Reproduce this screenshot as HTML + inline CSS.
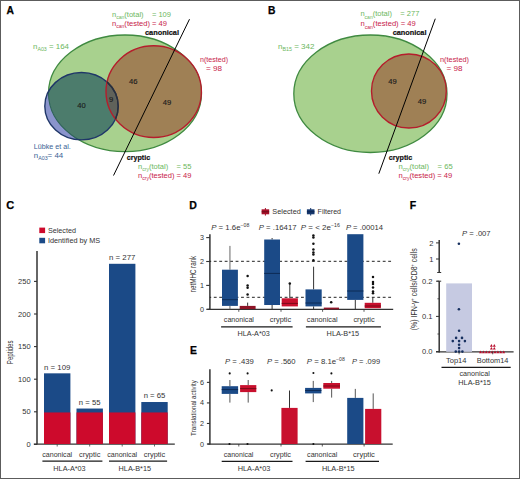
<!DOCTYPE html>
<html><head><meta charset="utf-8"><style>
html,body{margin:0;padding:0;background:#fff;}
svg{display:block;font-family:"Liberation Sans", sans-serif;}
</style></head><body>
<svg width="520" height="479" viewBox="0 0 520 479">
<rect x="0" y="0" width="520" height="479" fill="#fff"/>
<text x="6.5" y="13.7" font-size="10.3" fill="#000" text-anchor="start" font-weight="bold" stroke="#000" stroke-width="0.25">A</text>
<defs><clipPath id="gA"><ellipse cx="125" cy="93.3" rx="76.5" ry="58.3"/></clipPath><clipPath id="rA"><ellipse cx="153.7" cy="91.6" rx="47.7" ry="45.9"/></clipPath><clipPath id="bA"><ellipse cx="81.5" cy="106.2" rx="36.7" ry="33.7"/></clipPath></defs>
<ellipse cx="125" cy="93.3" rx="76.5" ry="58.3" fill="#a8d18e" stroke="#3f8a40" stroke-width="1.3"/>
<ellipse cx="81.5" cy="106.2" rx="36.7" ry="33.7" fill="#8a94cc"/>
<g clip-path="url(#gA)"><ellipse cx="81.5" cy="106.2" rx="36.7" ry="33.7" fill="#4c7c6c"/></g>
<g clip-path="url(#bA)"><ellipse cx="125" cy="93.3" rx="76.5" ry="58.3" fill="none" stroke="#2f6458" stroke-width="1.1"/></g>
<g clip-path="url(#gA)"><ellipse cx="153.7" cy="91.6" rx="47.7" ry="45.9" fill="#9f8055"/></g>
<g clip-path="url(#rA)"><g clip-path="url(#bA)"><rect x="0" y="0" width="520" height="200" fill="#60625a"/></g></g>
<ellipse cx="81.5" cy="106.2" rx="36.7" ry="33.7" fill="none" stroke="#1f3668" stroke-width="1.4"/>
<ellipse cx="153.7" cy="91.6" rx="47.7" ry="45.9" fill="none" stroke="#b51d2c" stroke-width="1.4"/>
<g clip-path="url(#rA)"><ellipse cx="81.5" cy="106.2" rx="36.7" ry="33.7" fill="none" stroke="#2a2f3a" stroke-width="1.4"/></g>
<line x1="189.5" y1="19.2" x2="113.5" y2="175.5" stroke="#000" stroke-width="1"/>
<text x="112" y="16.5" font-size="7" fill="#6cb75e" textLength="59" lengthAdjust="spacingAndGlyphs">n<tspan font-size="4.7" dy="2.3">can</tspan><tspan dy="-2.3">(total)    = 109</tspan></text>
<text x="112" y="26" font-size="7" fill="#c8234a" textLength="55" lengthAdjust="spacingAndGlyphs">n<tspan font-size="4.7" dy="2.3">can</tspan><tspan dy="-2.3">(tested) = 49</tspan></text>
<text x="145" y="35" font-size="7.6" fill="#111" text-anchor="start" font-weight="bold" textLength="34" lengthAdjust="spacingAndGlyphs" stroke="#111" stroke-width="0.2">canonical</text>
<text x="200" y="62" font-size="7" fill="#c8234a" text-anchor="start" textLength="28" lengthAdjust="spacingAndGlyphs">n(tested)</text>
<text x="206" y="71" font-size="7" fill="#c8234a" text-anchor="start" textLength="16" lengthAdjust="spacingAndGlyphs">= 98</text>
<text x="33" y="48.5" font-size="7" fill="#6cb75e" textLength="36" lengthAdjust="spacingAndGlyphs">n<tspan font-size="4.7" dy="2.3">A03</tspan><tspan dy="-2.3"> = 164</tspan></text>
<text x="81.6" y="108.4" font-size="7.6" fill="#1c1c1c" text-anchor="middle" stroke="#1c1c1c" stroke-width="0.15">40</text>
<text x="111" y="101.5" font-size="7.6" fill="#1c1c1c" text-anchor="middle" stroke="#1c1c1c" stroke-width="0.15">9</text>
<text x="133.3" y="83.5" font-size="7.6" fill="#1c1c1c" text-anchor="middle" stroke="#1c1c1c" stroke-width="0.15">46</text>
<text x="167" y="104.5" font-size="7.6" fill="#1c1c1c" text-anchor="middle" stroke="#1c1c1c" stroke-width="0.15">49</text>
<text x="33.75" y="148.9" font-size="7" fill="#3a5f95" text-anchor="start" textLength="37" lengthAdjust="spacingAndGlyphs">Lübke et al.</text>
<text x="33.75" y="158" font-size="7" fill="#3a5f95" textLength="29.5" lengthAdjust="spacingAndGlyphs">n<tspan font-size="4.7" dy="2.3">A03</tspan><tspan dy="-2.3">= 44</tspan></text>
<text x="126.8" y="160.0" font-size="7.6" fill="#111" text-anchor="start" font-weight="bold" textLength="23.4" lengthAdjust="spacingAndGlyphs" stroke="#111" stroke-width="0.2">cryptic</text>
<text x="138" y="168.9" font-size="7" fill="#6cb75e" textLength="53.5" lengthAdjust="spacingAndGlyphs">n<tspan font-size="4.7" dy="2.3">cry</tspan><tspan dy="-2.3">(total)    = 55</tspan></text>
<text x="138" y="177.8" font-size="7" fill="#c8234a" textLength="53.5" lengthAdjust="spacingAndGlyphs">n<tspan font-size="4.7" dy="2.3">cry</tspan><tspan dy="-2.3">(tested) = 49</tspan></text>
<text x="268" y="14" font-size="10.3" fill="#000" text-anchor="start" font-weight="bold" stroke="#000" stroke-width="0.25">B</text>
<defs><clipPath id="gB"><ellipse cx="370.4" cy="93.75" rx="76.6" ry="58.75"/></clipPath><clipPath id="rB"><ellipse cx="408.9" cy="91" rx="37.4" ry="37"/></clipPath></defs>
<ellipse cx="370.4" cy="93.75" rx="76.6" ry="58.75" fill="#a8d18e" stroke="#3f8a40" stroke-width="1.3"/>
<g clip-path="url(#gB)"><ellipse cx="408.9" cy="91" rx="37.4" ry="37" fill="#9f8055"/></g>
<ellipse cx="408.9" cy="91" rx="37.4" ry="37" fill="none" stroke="#b51d2c" stroke-width="1.4"/>
<line x1="435.3" y1="18.7" x2="378.8" y2="173.7" stroke="#000" stroke-width="1"/>
<text x="360.4" y="16.4" font-size="7" fill="#6cb75e" textLength="59" lengthAdjust="spacingAndGlyphs">n<tspan font-size="4.7" dy="2.3">can</tspan><tspan dy="-2.3">(total)    = 277</tspan></text>
<text x="360.4" y="26.3" font-size="7" fill="#c8234a" textLength="55.4" lengthAdjust="spacingAndGlyphs">n<tspan font-size="4.7" dy="2.3">can</tspan><tspan dy="-2.3">(tested) = 49</tspan></text>
<text x="392.7" y="35.1" font-size="7.6" fill="#111" text-anchor="start" font-weight="bold" textLength="33.8" lengthAdjust="spacingAndGlyphs" stroke="#111" stroke-width="0.2">canonical</text>
<text x="440" y="62" font-size="7" fill="#c8234a" text-anchor="start" textLength="29" lengthAdjust="spacingAndGlyphs">n(tested)</text>
<text x="446.5" y="71" font-size="7" fill="#c8234a" text-anchor="start" textLength="16" lengthAdjust="spacingAndGlyphs">= 98</text>
<text x="278" y="48.5" font-size="7" fill="#6cb75e" textLength="36.5" lengthAdjust="spacingAndGlyphs">n<tspan font-size="4.7" dy="2.3">B15</tspan><tspan dy="-2.3"> = 342</tspan></text>
<text x="392.4" y="83.6" font-size="7.6" fill="#1c1c1c" text-anchor="middle" stroke="#1c1c1c" stroke-width="0.15">49</text>
<text x="422" y="104.1" font-size="7.6" fill="#1c1c1c" text-anchor="middle" stroke="#1c1c1c" stroke-width="0.15">49</text>
<text x="388.8" y="160.0" font-size="7.6" fill="#111" text-anchor="start" font-weight="bold" textLength="23.5" lengthAdjust="spacingAndGlyphs" stroke="#111" stroke-width="0.2">cryptic</text>
<text x="398.5" y="168.9" font-size="7" fill="#6cb75e" textLength="54.2" lengthAdjust="spacingAndGlyphs">n<tspan font-size="4.7" dy="2.3">cry</tspan><tspan dy="-2.3">(total)    = 65</tspan></text>
<text x="398.5" y="177.8" font-size="7" fill="#c8234a" textLength="53.8" lengthAdjust="spacingAndGlyphs">n<tspan font-size="4.7" dy="2.3">cry</tspan><tspan dy="-2.3">(tested) = 49</tspan></text>
<text x="6.3" y="209.4" font-size="11" fill="#000" text-anchor="start" font-weight="bold" stroke="#000" stroke-width="0.25">C</text>
<rect x="39.3" y="227.6" width="5.8" height="5.5" fill="#cd0a2c"/>
<rect x="39.3" y="237.8" width="5.8" height="5.5" fill="#1b4a87"/>
<text x="47.9" y="233.1" font-size="7.2" fill="#333" text-anchor="start" textLength="28" lengthAdjust="spacingAndGlyphs">Selected</text>
<text x="47.9" y="243.4" font-size="7.2" fill="#333" text-anchor="start" textLength="52.3" lengthAdjust="spacingAndGlyphs">Identified by MS</text>
<line x1="37" y1="251" x2="37" y2="444.6" stroke="#333" stroke-width="1.5"/>
<line x1="33.8" y1="444.1" x2="174.8" y2="444.1" stroke="#333" stroke-width="1.3"/>
<line x1="34" y1="444.4" x2="37" y2="444.4" stroke="#333" stroke-width="1.1"/>
<text x="30.6" y="447.0" font-size="7.5" fill="#333" text-anchor="end">0</text>
<line x1="34" y1="411.79999999999995" x2="37" y2="411.79999999999995" stroke="#333" stroke-width="1.1"/>
<text x="30.6" y="414.4" font-size="7.5" fill="#333" text-anchor="end">50</text>
<line x1="34" y1="379.2" x2="37" y2="379.2" stroke="#333" stroke-width="1.1"/>
<text x="30.6" y="381.8" font-size="7.5" fill="#333" text-anchor="end">100</text>
<line x1="34" y1="346.59999999999997" x2="37" y2="346.59999999999997" stroke="#333" stroke-width="1.1"/>
<text x="30.6" y="349.2" font-size="7.5" fill="#333" text-anchor="end">150</text>
<line x1="34" y1="314.0" x2="37" y2="314.0" stroke="#333" stroke-width="1.1"/>
<text x="30.6" y="316.6" font-size="7.5" fill="#333" text-anchor="end">200</text>
<line x1="34" y1="281.4" x2="37" y2="281.4" stroke="#333" stroke-width="1.1"/>
<text x="30.6" y="284.0" font-size="7.5" fill="#333" text-anchor="end">250</text>
<rect x="44" y="373.332" width="26.4" height="70.668" fill="#1b4a87"/>
<rect x="44" y="412.452" width="26.4" height="31.548000000000002" fill="#cd0a2c"/>
<line x1="57.2" y1="444" x2="57.2" y2="446.5" stroke="#444" stroke-width="0.8"/>
<text x="57.2" y="369.73199999999997" font-size="7" fill="#333" text-anchor="middle" textLength="26.3" lengthAdjust="spacingAndGlyphs">n = 109</text>
<text x="57.2" y="456.6" font-size="7.4" fill="#333" text-anchor="middle" textLength="29.9" lengthAdjust="spacingAndGlyphs">canonical</text>
<rect x="76.5" y="408.53999999999996" width="26.4" height="35.460000000000036" fill="#1b4a87"/>
<rect x="76.5" y="412.452" width="26.4" height="31.548000000000002" fill="#cd0a2c"/>
<line x1="89.7" y1="444" x2="89.7" y2="446.5" stroke="#444" stroke-width="0.8"/>
<text x="89.7" y="404.93999999999994" font-size="7" fill="#333" text-anchor="middle" textLength="21.7" lengthAdjust="spacingAndGlyphs">n = 55</text>
<text x="89.7" y="456.6" font-size="7.4" fill="#333" text-anchor="middle" textLength="21.5" lengthAdjust="spacingAndGlyphs">cryptic</text>
<rect x="109" y="263.79599999999994" width="26.4" height="180.20400000000006" fill="#1b4a87"/>
<rect x="109" y="412.452" width="26.4" height="31.548000000000002" fill="#cd0a2c"/>
<line x1="122.2" y1="444" x2="122.2" y2="446.5" stroke="#444" stroke-width="0.8"/>
<text x="122.2" y="260.1959999999999" font-size="7" fill="#333" text-anchor="middle" textLength="26.3" lengthAdjust="spacingAndGlyphs">n = 277</text>
<text x="122.2" y="456.6" font-size="7.4" fill="#333" text-anchor="middle" textLength="29.9" lengthAdjust="spacingAndGlyphs">canonical</text>
<rect x="141.3" y="402.02" width="26.4" height="41.98000000000002" fill="#1b4a87"/>
<rect x="141.3" y="412.452" width="26.4" height="31.548000000000002" fill="#cd0a2c"/>
<line x1="154.5" y1="444" x2="154.5" y2="446.5" stroke="#444" stroke-width="0.8"/>
<text x="154.5" y="398.41999999999996" font-size="7" fill="#333" text-anchor="middle" textLength="21.7" lengthAdjust="spacingAndGlyphs">n = 65</text>
<text x="154.5" y="456.6" font-size="7.4" fill="#333" text-anchor="middle" textLength="21.5" lengthAdjust="spacingAndGlyphs">cryptic</text>
<line x1="42.4" y1="461.2" x2="102.4" y2="461.2" stroke="#1a1a1a" stroke-width="1.3"/>
<line x1="109" y1="461.2" x2="167.1" y2="461.2" stroke="#1a1a1a" stroke-width="1.3"/>
<text x="69.5" y="470.6" font-size="7.4" fill="#333" text-anchor="middle" textLength="32.3" lengthAdjust="spacingAndGlyphs">HLA-A*03</text>
<text x="134.8" y="470.6" font-size="7.4" fill="#333" text-anchor="middle" textLength="32.5" lengthAdjust="spacingAndGlyphs">HLA-B*15</text>
<text x="0" y="0" font-size="9.2" fill="#333" text-anchor="middle" textLength="23.7" lengthAdjust="spacingAndGlyphs" transform="translate(12.9,352.3) rotate(-90)">Peptides</text>
<text x="189.3" y="209.1" font-size="10.5" fill="#000" text-anchor="start" font-weight="bold" stroke="#000" stroke-width="0.25">D</text>
<line x1="209.9" y1="234.2" x2="209.9" y2="309.9" stroke="#333" stroke-width="1.5"/>
<line x1="207.2" y1="309.3" x2="393.2" y2="309.3" stroke="#333" stroke-width="1.3"/>
<line x1="206.2" y1="309.3" x2="209.9" y2="309.3" stroke="#333" stroke-width="1.1"/>
<text x="204" y="311.5" font-size="7.2" fill="#333" text-anchor="end">0</text>
<line x1="206.2" y1="285.40000000000003" x2="209.9" y2="285.40000000000003" stroke="#333" stroke-width="1.1"/>
<text x="204" y="287.6" font-size="7.2" fill="#333" text-anchor="end">1</text>
<line x1="206.2" y1="261.5" x2="209.9" y2="261.5" stroke="#333" stroke-width="1.1"/>
<text x="204" y="263.7" font-size="7.2" fill="#333" text-anchor="end">2</text>
<line x1="206.2" y1="237.60000000000002" x2="209.9" y2="237.60000000000002" stroke="#333" stroke-width="1.1"/>
<text x="204" y="239.8" font-size="7.2" fill="#333" text-anchor="end">3</text>
<line x1="209.8" y1="261.3" x2="393.4" y2="261.3" stroke="#222" stroke-width="1" stroke-dasharray="2.85 2.6" stroke-dashoffset="1.45"/>
<line x1="209.8" y1="297.3" x2="393.4" y2="297.3" stroke="#222" stroke-width="1" stroke-dasharray="2.85 2.6" stroke-dashoffset="1.45"/>
<line x1="229.95" y1="245.9" x2="229.95" y2="269.7" stroke="#666" stroke-width="1"/>
<line x1="229.95" y1="305.9" x2="229.95" y2="309.3" stroke="#666" stroke-width="1"/>
<rect x="222" y="269.7" width="15.900000000000006" height="36.19999999999999" fill="#1b4a87"/>
<line x1="222" y1="299.7" x2="237.9" y2="299.7" stroke="#0d2a55" stroke-width="1"/>
<line x1="247.64999999999998" y1="302.6" x2="247.64999999999998" y2="305.9" stroke="#333" stroke-width="1"/>
<rect x="239.7" y="305.9" width="15.900000000000006" height="3.1000000000000227" fill="#8e1326"/>
<circle cx="247.6" cy="275.9" r="1.25" fill="#111"/>
<circle cx="247.6" cy="285.6" r="1.25" fill="#111"/>
<circle cx="247.6" cy="287.8" r="1.25" fill="#111"/>
<circle cx="247.6" cy="294.6" r="1.25" fill="#111"/>
<line x1="272.1" y1="238" x2="272.1" y2="239.5" stroke="#333" stroke-width="1"/>
<line x1="272.1" y1="305" x2="272.1" y2="309.3" stroke="#333" stroke-width="1"/>
<rect x="264.2" y="239.5" width="15.800000000000011" height="65.5" fill="#1b4a87"/>
<line x1="264.2" y1="273.4" x2="280" y2="273.4" stroke="#0d2a55" stroke-width="1"/>
<line x1="289.79999999999995" y1="284" x2="289.79999999999995" y2="298.3" stroke="#333" stroke-width="1"/>
<rect x="281.7" y="298.3" width="16.19999999999999" height="8.099999999999966" fill="#c8102e"/>
<line x1="281.7" y1="303.4" x2="297.9" y2="303.4" stroke="#7a0a18" stroke-width="1"/>
<circle cx="289.8" cy="283.6" r="1.25" fill="#111"/>
<line x1="313.6" y1="266.7" x2="313.6" y2="289.4" stroke="#333" stroke-width="1"/>
<line x1="313.6" y1="306.4" x2="313.6" y2="309.3" stroke="#333" stroke-width="1"/>
<rect x="305.5" y="289.4" width="16.19999999999999" height="17.0" fill="#1b4a87"/>
<line x1="305.5" y1="303" x2="321.7" y2="303" stroke="#0d2a55" stroke-width="1"/>
<circle cx="313.4" cy="235.6" r="1.25" fill="#111"/>
<circle cx="313.4" cy="237.6" r="1.25" fill="#111"/>
<circle cx="313.4" cy="243.8" r="1.25" fill="#111"/>
<circle cx="313.4" cy="249.6" r="1.25" fill="#111"/>
<circle cx="313.4" cy="252.6" r="1.25" fill="#111"/>
<circle cx="313.4" cy="254.6" r="1.25" fill="#111"/>
<circle cx="313.4" cy="260.2" r="1.25" fill="#111"/>
<rect x="323.8" y="307.6" width="15.199999999999989" height="1.6999999999999886" fill="#8e1326"/>
<circle cx="331.2" cy="302.3" r="1.25" fill="#111"/>
<line x1="355.29999999999995" y1="299.9" x2="355.29999999999995" y2="309.3" stroke="#333" stroke-width="1"/>
<rect x="347.2" y="234.2" width="16.19999999999999" height="65.69999999999999" fill="#1b4a87"/>
<line x1="347.2" y1="291" x2="363.4" y2="291" stroke="#0d2a55" stroke-width="1"/>
<line x1="372.79999999999995" y1="297.5" x2="372.79999999999995" y2="302.8" stroke="#333" stroke-width="1"/>
<rect x="364.7" y="302.8" width="16.19999999999999" height="5.399999999999977" fill="#c8102e"/>
<line x1="364.7" y1="306" x2="380.9" y2="306" stroke="#7a0a18" stroke-width="1"/>
<circle cx="373" cy="277.1" r="1.25" fill="#111"/>
<circle cx="373" cy="282" r="1.25" fill="#111"/>
<circle cx="373" cy="284" r="1.25" fill="#111"/>
<circle cx="373" cy="287.5" r="1.25" fill="#111"/>
<circle cx="373" cy="291.5" r="1.25" fill="#111"/>
<circle cx="373" cy="293.3" r="1.25" fill="#111"/>
<line x1="238.8" y1="309.3" x2="238.8" y2="311.8" stroke="#333" stroke-width="0.8"/>
<line x1="281" y1="309.3" x2="281" y2="311.8" stroke="#333" stroke-width="0.8"/>
<line x1="322.6" y1="309.3" x2="322.6" y2="311.8" stroke="#333" stroke-width="0.8"/>
<line x1="364" y1="309.3" x2="364" y2="311.8" stroke="#333" stroke-width="0.8"/>
<text x="238.9" y="321.8" font-size="7.4" fill="#333" text-anchor="middle" textLength="30.1" lengthAdjust="spacingAndGlyphs">canonical</text>
<text x="280.5" y="321.8" font-size="7.4" fill="#333" text-anchor="middle" textLength="21.5" lengthAdjust="spacingAndGlyphs">cryptic</text>
<text x="322.2" y="321.8" font-size="7.4" fill="#333" text-anchor="middle" textLength="30.7" lengthAdjust="spacingAndGlyphs">canonical</text>
<text x="364" y="321.8" font-size="7.4" fill="#333" text-anchor="middle" textLength="21.2" lengthAdjust="spacingAndGlyphs">cryptic</text>
<line x1="221.1" y1="326.8" x2="292.6" y2="326.8" stroke="#1a1a1a" stroke-width="1.3"/>
<line x1="305.9" y1="326.8" x2="380.9" y2="326.8" stroke="#1a1a1a" stroke-width="1.3"/>
<text x="253.7" y="335.5" font-size="7.4" fill="#333" text-anchor="middle" textLength="32.2" lengthAdjust="spacingAndGlyphs">HLA-A*03</text>
<text x="342.9" y="335.5" font-size="7.4" fill="#333" text-anchor="middle" textLength="32.6" lengthAdjust="spacingAndGlyphs">HLA-B*15</text>
<text x="0" y="0" font-size="9.4" fill="#333" text-anchor="middle" textLength="36.6" lengthAdjust="spacingAndGlyphs" transform="translate(196.2,274.1) rotate(-90)">netMHC rank</text>
<line x1="265.40000000000003" y1="208.0" x2="265.40000000000003" y2="215.60000000000002" stroke="#a8102a" stroke-width="1"/>
<rect x="261.6" y="209.3" width="7.6" height="5" fill="#a8102a"/>
<line x1="261.6" y1="211.8" x2="269.20000000000005" y2="211.8" stroke="#5a0a14" stroke-width="0.8"/>
<text x="272.3" y="214.3" font-size="7" fill="#333" text-anchor="start" textLength="28.5" lengthAdjust="spacingAndGlyphs">Selected</text>
<line x1="310.7" y1="208.0" x2="310.7" y2="215.60000000000002" stroke="#17396f" stroke-width="1"/>
<rect x="306.9" y="209.3" width="7.6" height="5" fill="#17396f"/>
<line x1="306.9" y1="211.8" x2="314.5" y2="211.8" stroke="#0a2048" stroke-width="0.8"/>
<text x="317.6" y="214.3" font-size="7" fill="#333" text-anchor="start" textLength="23.4" lengthAdjust="spacingAndGlyphs">Filtered</text>
<text x="211.2" y="230.3" font-size="7" fill="#333" textLength="38.1" lengthAdjust="spacingAndGlyphs"><tspan font-style="italic">P</tspan> = 1.6e<tspan font-size="4.6" dy="-3">−08</tspan></text>
<text x="258.8" y="230.3" font-size="7" fill="#333" textLength="37.7" lengthAdjust="spacingAndGlyphs"><tspan font-style="italic">P</tspan> = .16417</text>
<text x="300.8" y="230.3" font-size="7" fill="#333" textLength="39" lengthAdjust="spacingAndGlyphs"><tspan font-style="italic">P</tspan> = &lt; 2e<tspan font-size="4.6" dy="-3">−16</tspan></text>
<text x="345.9" y="230.3" font-size="7" fill="#333" textLength="37.2" lengthAdjust="spacingAndGlyphs"><tspan font-style="italic">P</tspan> = .00014</text>
<text x="189.9" y="354" font-size="10.4" fill="#000" text-anchor="start" font-weight="bold" stroke="#000" stroke-width="0.25">E</text>
<line x1="209.9" y1="369.2" x2="209.9" y2="444.6" stroke="#333" stroke-width="1.5"/>
<line x1="207.5" y1="444.1" x2="392.7" y2="444.1" stroke="#333" stroke-width="1.3"/>
<line x1="206.9" y1="444.0" x2="209.9" y2="444.0" stroke="#333" stroke-width="1.1"/>
<text x="203.9" y="446.5" font-size="7.2" fill="#333" text-anchor="end">0</text>
<line x1="206.9" y1="423.46" x2="209.9" y2="423.46" stroke="#333" stroke-width="1.1"/>
<text x="203.9" y="425.96" font-size="7.2" fill="#333" text-anchor="end">2</text>
<line x1="206.9" y1="402.92" x2="209.9" y2="402.92" stroke="#333" stroke-width="1.1"/>
<text x="203.9" y="405.42" font-size="7.2" fill="#333" text-anchor="end">4</text>
<line x1="206.9" y1="382.38" x2="209.9" y2="382.38" stroke="#333" stroke-width="1.1"/>
<text x="203.9" y="384.88" font-size="7.2" fill="#333" text-anchor="end">6</text>
<line x1="229.89999999999998" y1="380" x2="229.89999999999998" y2="386.2" stroke="#555" stroke-width="1"/>
<line x1="229.89999999999998" y1="393.9" x2="229.89999999999998" y2="402.6" stroke="#555" stroke-width="1"/>
<rect x="221.7" y="386.2" width="16.400000000000006" height="7.699999999999989" fill="#1b4a87"/>
<line x1="221.7" y1="389.6" x2="238.1" y2="389.6" stroke="#0d2a55" stroke-width="1"/>
<circle cx="229.7" cy="373.4" r="1.05" fill="#111"/>
<circle cx="229.5" cy="444" r="1.05" fill="#111"/>
<line x1="248.2" y1="380" x2="248.2" y2="385.1" stroke="#555" stroke-width="1"/>
<line x1="248.2" y1="392.1" x2="248.2" y2="402.6" stroke="#555" stroke-width="1"/>
<rect x="240.1" y="385.1" width="16.200000000000017" height="7.0" fill="#c8102e"/>
<line x1="240.1" y1="388.6" x2="256.3" y2="388.6" stroke="#7a0a18" stroke-width="1"/>
<circle cx="247.6" cy="373.4" r="1.05" fill="#111"/>
<circle cx="247.5" cy="444" r="1.05" fill="#111"/>
<circle cx="271.7" cy="390.4" r="1.05" fill="#111"/>
<line x1="289.5" y1="390.5" x2="289.5" y2="407.9" stroke="#333" stroke-width="1"/>
<rect x="281.4" y="407.9" width="16.200000000000045" height="36.10000000000002" fill="#c8102e"/>
<line x1="313.25" y1="380.9" x2="313.25" y2="387.9" stroke="#555" stroke-width="1"/>
<line x1="313.25" y1="393.4" x2="313.25" y2="402.1" stroke="#555" stroke-width="1"/>
<rect x="305.1" y="387.9" width="16.299999999999955" height="5.5" fill="#1b4a87"/>
<line x1="305.1" y1="390.5" x2="321.4" y2="390.5" stroke="#0d2a55" stroke-width="1"/>
<circle cx="313.4" cy="373" r="1.05" fill="#111"/>
<circle cx="313.4" cy="444" r="1.05" fill="#111"/>
<line x1="331.65" y1="380.9" x2="331.65" y2="383" stroke="#555" stroke-width="1"/>
<line x1="331.65" y1="388.7" x2="331.65" y2="397.6" stroke="#555" stroke-width="1"/>
<rect x="323.3" y="383" width="16.69999999999999" height="5.699999999999989" fill="#c8102e"/>
<line x1="323.3" y1="386" x2="340" y2="386" stroke="#7a0a18" stroke-width="1"/>
<circle cx="331.4" cy="373.4" r="1.05" fill="#111"/>
<line x1="355.29999999999995" y1="388.9" x2="355.29999999999995" y2="397.9" stroke="#555" stroke-width="1"/>
<rect x="347.2" y="397.9" width="16.19999999999999" height="46.10000000000002" fill="#1b4a87"/>
<line x1="373.20000000000005" y1="393.4" x2="373.20000000000005" y2="408.9" stroke="#555" stroke-width="1"/>
<rect x="365.1" y="408.9" width="16.19999999999999" height="35.10000000000002" fill="#c8102e"/>
<line x1="238.8" y1="444" x2="238.8" y2="446.5" stroke="#333" stroke-width="0.8"/>
<line x1="281" y1="444" x2="281" y2="446.5" stroke="#333" stroke-width="0.8"/>
<line x1="322.3" y1="444" x2="322.3" y2="446.5" stroke="#333" stroke-width="0.8"/>
<line x1="364.1" y1="444" x2="364.1" y2="446.5" stroke="#333" stroke-width="0.8"/>
<text x="238.6" y="456.8" font-size="7.4" fill="#333" text-anchor="middle" textLength="29.6" lengthAdjust="spacingAndGlyphs">canonical</text>
<text x="280.5" y="456.8" font-size="7.4" fill="#333" text-anchor="middle" textLength="21" lengthAdjust="spacingAndGlyphs">cryptic</text>
<text x="322.2" y="456.8" font-size="7.4" fill="#333" text-anchor="middle" textLength="30.3" lengthAdjust="spacingAndGlyphs">canonical</text>
<text x="364" y="456.8" font-size="7.4" fill="#333" text-anchor="middle" textLength="21.8" lengthAdjust="spacingAndGlyphs">cryptic</text>
<line x1="221.7" y1="461.3" x2="292.5" y2="461.3" stroke="#1a1a1a" stroke-width="1.3"/>
<line x1="305.6" y1="461.3" x2="379" y2="461.3" stroke="#1a1a1a" stroke-width="1.3"/>
<text x="254" y="470.6" font-size="7.4" fill="#333" text-anchor="middle" textLength="32.7" lengthAdjust="spacingAndGlyphs">HLA-A*03</text>
<text x="338.3" y="470.6" font-size="7.4" fill="#333" text-anchor="middle" textLength="32.6" lengthAdjust="spacingAndGlyphs">HLA-B*15</text>
<text x="0" y="0" font-size="8" fill="#333" text-anchor="middle" textLength="55.8" lengthAdjust="spacingAndGlyphs" transform="translate(196.2,408) rotate(-90)">Translational activity</text>
<text x="225" y="363.7" font-size="7" fill="#333" textLength="28.8" lengthAdjust="spacingAndGlyphs"><tspan font-style="italic">P</tspan> = .439</text>
<text x="267" y="363.7" font-size="7" fill="#333" textLength="28.6" lengthAdjust="spacingAndGlyphs"><tspan font-style="italic">P</tspan> = .560</text>
<text x="306.8" y="363.7" font-size="7" fill="#333" textLength="38" lengthAdjust="spacingAndGlyphs"><tspan font-style="italic">P</tspan> = 8.1e<tspan font-size="4.6" dy="-3">−08</tspan></text>
<text x="352" y="363.7" font-size="7" fill="#333" textLength="28.1" lengthAdjust="spacingAndGlyphs"><tspan font-style="italic">P</tspan> = .099</text>
<text x="409.7" y="209.2" font-size="10.5" fill="#000" text-anchor="start" font-weight="bold" stroke="#000" stroke-width="0.25">F</text>
<line x1="439.2" y1="240" x2="439.2" y2="272.5" stroke="#333" stroke-width="1.5"/>
<line x1="437.2" y1="272.5" x2="441.2" y2="272.5" stroke="#333" stroke-width="1"/>
<line x1="439.2" y1="281.2" x2="439.2" y2="352.4" stroke="#333" stroke-width="1.5"/>
<line x1="437.2" y1="281.2" x2="441.2" y2="281.2" stroke="#333" stroke-width="1"/>
<line x1="436" y1="351.8" x2="513.6" y2="351.8" stroke="#333" stroke-width="1.3"/>
<line x1="436" y1="242.9" x2="439.2" y2="242.9" stroke="#333" stroke-width="1"/>
<text x="433.4" y="245.6" font-size="7.6" fill="#333" text-anchor="end">2</text>
<line x1="436" y1="259" x2="439.2" y2="259" stroke="#333" stroke-width="1"/>
<text x="433.4" y="261.7" font-size="7.6" fill="#333" text-anchor="end">1</text>
<line x1="436" y1="281.2" x2="439.2" y2="281.2" stroke="#333" stroke-width="1"/>
<text x="432.6" y="283.9" font-size="7.6" fill="#333" text-anchor="end">0.2</text>
<line x1="436" y1="316.4" x2="439.2" y2="316.4" stroke="#333" stroke-width="1"/>
<text x="432.6" y="319.09999999999997" font-size="7.6" fill="#333" text-anchor="end">0.1</text>
<line x1="436" y1="351.6" x2="439.2" y2="351.6" stroke="#333" stroke-width="1"/>
<text x="432.6" y="354.3" font-size="7.6" fill="#333" text-anchor="end">0.0</text>
<line x1="437.4" y1="298.8" x2="439.2" y2="298.8" stroke="#333" stroke-width="0.8"/>
<line x1="437.4" y1="334" x2="439.2" y2="334" stroke="#333" stroke-width="0.8"/>
<rect x="446.2" y="283.4" width="25.8" height="68.4" fill="#c6cae2"/>
<circle cx="458.9" cy="243.7" r="1.3" fill="#17305f"/>
<circle cx="458.9" cy="309.2" r="1.3" fill="#17305f"/>
<circle cx="459.1" cy="330.8" r="1.3" fill="#17305f"/>
<circle cx="456.1" cy="337.9" r="1.3" fill="#17305f"/>
<circle cx="462" cy="337.9" r="1.3" fill="#17305f"/>
<circle cx="452.8" cy="341.1" r="1.3" fill="#17305f"/>
<circle cx="459.1" cy="341.1" r="1.3" fill="#17305f"/>
<circle cx="464.9" cy="341.1" r="1.3" fill="#17305f"/>
<circle cx="459.1" cy="344.7" r="1.3" fill="#17305f"/>
<circle cx="459.1" cy="348.1" r="1.3" fill="#17305f"/>
<circle cx="455.8" cy="351.6" r="1.3" fill="#17305f"/>
<circle cx="459.1" cy="351.6" r="1.3" fill="#17305f"/>
<circle cx="462.4" cy="351.6" r="1.3" fill="#17305f"/>
<path d="M479.05 353.16L481.95 353.16L480.5 350.55Z" fill="#b80e2c"/>
<path d="M481.95 353.16L484.84999999999997 353.16L483.4 350.55Z" fill="#b80e2c"/>
<path d="M484.85 353.16L487.75 353.16L486.3 350.55Z" fill="#b80e2c"/>
<path d="M487.75 353.16L490.65 353.16L489.2 350.55Z" fill="#b80e2c"/>
<path d="M490.65000000000003 353.16L493.55 353.16L492.1 350.55Z" fill="#b80e2c"/>
<path d="M493.55 353.16L496.45 353.16L495 350.55Z" fill="#b80e2c"/>
<path d="M496.45 353.16L499.34999999999997 353.16L497.9 350.55Z" fill="#b80e2c"/>
<path d="M499.35 353.16L502.25 353.16L500.8 350.55Z" fill="#b80e2c"/>
<path d="M502.25 353.16L505.15 353.16L503.7 350.55Z" fill="#b80e2c"/>
<path d="M489.95 346.66L492.84999999999997 346.66L491.4 344.05Z" fill="#b80e2c"/>
<path d="M492.85 346.66L495.75 346.66L494.3 344.05Z" fill="#b80e2c"/>
<path d="M489.95 349.56L492.84999999999997 349.56L491.4 346.95Z" fill="#b80e2c"/>
<path d="M492.85 349.56L495.75 349.56L494.3 346.95Z" fill="#b80e2c"/>
<line x1="459.1" y1="351.8" x2="459.1" y2="354.3" stroke="#333" stroke-width="0.8"/>
<line x1="492.7" y1="351.8" x2="492.7" y2="354.3" stroke="#333" stroke-width="0.8"/>
<text x="456.2" y="362.6" font-size="7.4" fill="#333" text-anchor="middle" textLength="20.5" lengthAdjust="spacingAndGlyphs">Top14</text>
<text x="492.6" y="362.6" font-size="7.4" fill="#333" text-anchor="middle" textLength="31.7" lengthAdjust="spacingAndGlyphs">Bottom14</text>
<line x1="441.5" y1="367.4" x2="510.7" y2="367.4" stroke="#1a1a1a" stroke-width="1.3"/>
<text x="474.6" y="375.7" font-size="7.4" fill="#333" text-anchor="middle" textLength="30.3" lengthAdjust="spacingAndGlyphs">canonical</text>
<text x="474.6" y="384.6" font-size="7.4" fill="#333" text-anchor="middle" textLength="32.6" lengthAdjust="spacingAndGlyphs">HLA-B*15</text>
<text x="462" y="235.8" font-size="7" fill="#333" textLength="28.6" lengthAdjust="spacingAndGlyphs"><tspan font-style="italic">P</tspan> = .007</text>
<text font-size="8.2" fill="#333" text-anchor="middle" textLength="82" lengthAdjust="spacingAndGlyphs" transform="translate(417.3,289.3) rotate(-90)">(%) IFN-γ<tspan font-size="4.6" dy="-3">+</tspan><tspan dy="3"> cells/CD8</tspan><tspan font-size="4.6" dy="-3">+</tspan><tspan dy="3"> cells</tspan></text>
<rect x="0.5" y="0.5" width="519" height="478" fill="none" stroke="#5c5c5c" stroke-width="1"/>
</svg>
</body></html>
